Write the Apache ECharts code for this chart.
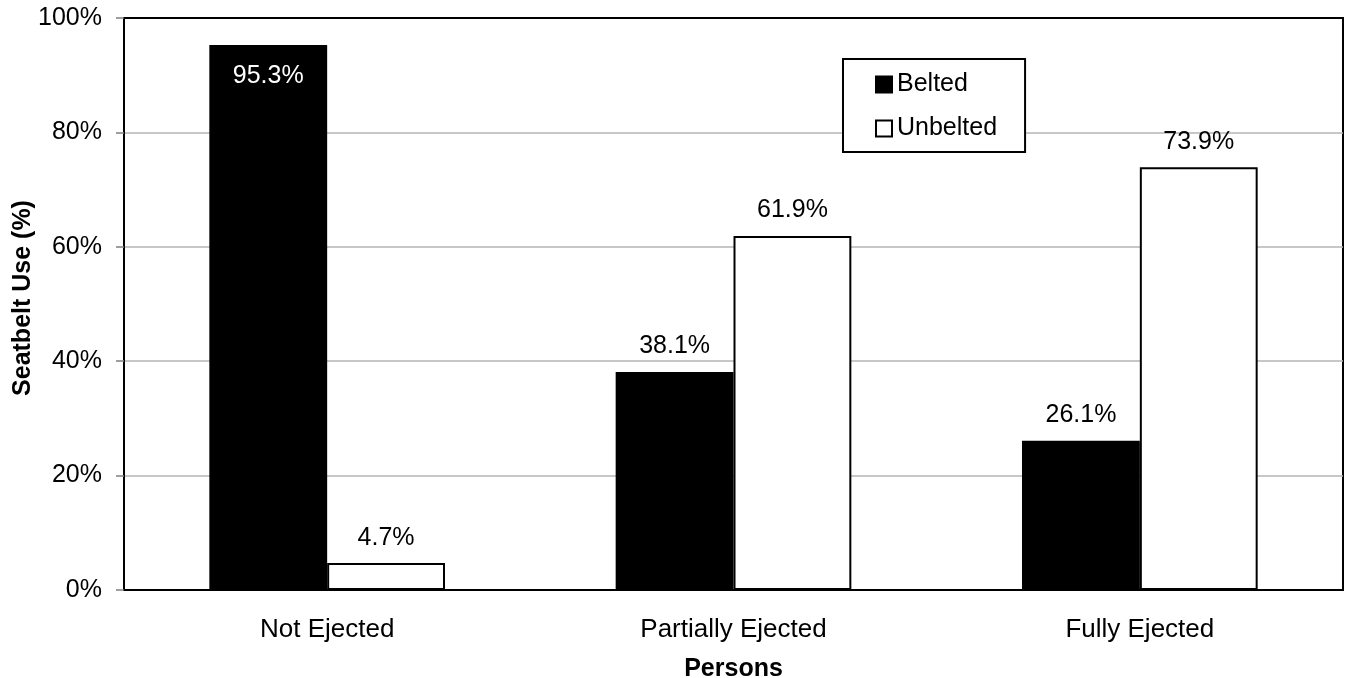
<!DOCTYPE html>
<html>
<head>
<meta charset="utf-8">
<script src="https://cdn.jsdelivr.net/npm/echarts@6/dist/echarts.min.js"></script>
<style>html,body{margin:0;padding:0;background:#fff}#c{width:1345px;height:678px}</style>
</head>
<body>
<div id="c"></div>
<script>
var categories = ['Not Ejected', 'Partially Ejected', 'Fully Ejected'];
var belted = [95.3, 38.1, 26.1];
var unbelted = [4.7, 61.9, 73.9];
var yTicks = [0, 20, 40, 60, 80, 100];

var FONT = 'Liberation Sans, Arial, sans-serif';
var chart = echarts.init(document.getElementById('c'));

function fmt(p) { return p.value.toFixed(1) + '%'; }

var beltedData = belted.map(function (v, i) {
  if (i === 0) {
    return { value: v, label: { position: 'insideTop', color: '#fff', distance: 19 } };
  }
  return v;
});

chart.setOption({
  animation: false,
  backgroundColor: '#fff',
  textStyle: { fontFamily: FONT },
  grid: { left: 124, right: 2, top: 18, bottom: 88, containLabel: false, outerBoundsMode: 'none', show: true, borderColor: '#000', borderWidth: 2, backgroundColor: 'transparent' },
  legend: {
    orient: 'vertical',
    left: 843, top: 59,
    padding: [13, 28, 11, 32],
    itemGap: 19,
    itemWidth: 16, itemHeight: 16,
    borderColor: '#000', borderWidth: 2,
    backgroundColor: '#fff',
    icon: 'rect',
    textStyle: { fontFamily: FONT, fontSize: 25, color: '#000' },
    data: ['Belted', 'Unbelted']
  },
  xAxis: {
    type: 'category',
    data: categories,
    name: 'Persons',
    nameLocation: 'middle',
    nameGap: 67,
    nameMoveOverlap: false,
    nameTextStyle: { fontFamily: FONT, fontSize: 25, fontWeight: 'bold', color: '#000' },
    axisLine: { lineStyle: { color: '#000', width: 2 } },
    axisTick: { show: false },
    axisLabel: { fontFamily: FONT, fontSize: 26, color: '#000', margin: 27 }
  },
  yAxis: {
    type: 'value',
    min: yTicks[0], max: yTicks[yTicks.length - 1], interval: 20,
    name: 'Seatbelt Use (%)',
    nameLocation: 'middle',
    nameGap: 88,
    nameMoveOverlap: false,
    nameRotate: 90,
    nameTextStyle: { fontFamily: FONT, fontSize: 25, fontWeight: 'bold', color: '#000', padding: [0, 0, 0, 12] },
    axisLine: { show: true, lineStyle: { color: '#000', width: 2 } },
    axisTick: { show: true, length: 8, lineStyle: { color: '#808080', width: 1.5 } },
    splitLine: { show: true, showMinLine: false, showMaxLine: false, lineStyle: { color: '#b4b4b4', width: 1.5 } },
    axisLabel: { fontFamily: FONT, fontSize: 25, color: '#000', margin: 22, formatter: '{value}%' }
  },
  series: [
    {
      name: 'Belted', type: 'bar', data: beltedData,
      barGap: '0%', barCategoryGap: '42%',
      itemStyle: { color: '#000', borderColor: '#000', borderWidth: 1.5 },
      label: { show: true, position: 'top', distance: 13, fontFamily: FONT, fontSize: 25, color: '#000', formatter: fmt }
    },
    {
      name: 'Unbelted', type: 'bar', data: unbelted,
      barGap: '0%', barCategoryGap: '42%',
      itemStyle: { color: '#fff', borderColor: '#000', borderWidth: 2 },
      label: { show: true, position: 'top', distance: 13, fontFamily: FONT, fontSize: 25, color: '#000', formatter: fmt }
    }
  ]
});
</script>
</body>
</html>
